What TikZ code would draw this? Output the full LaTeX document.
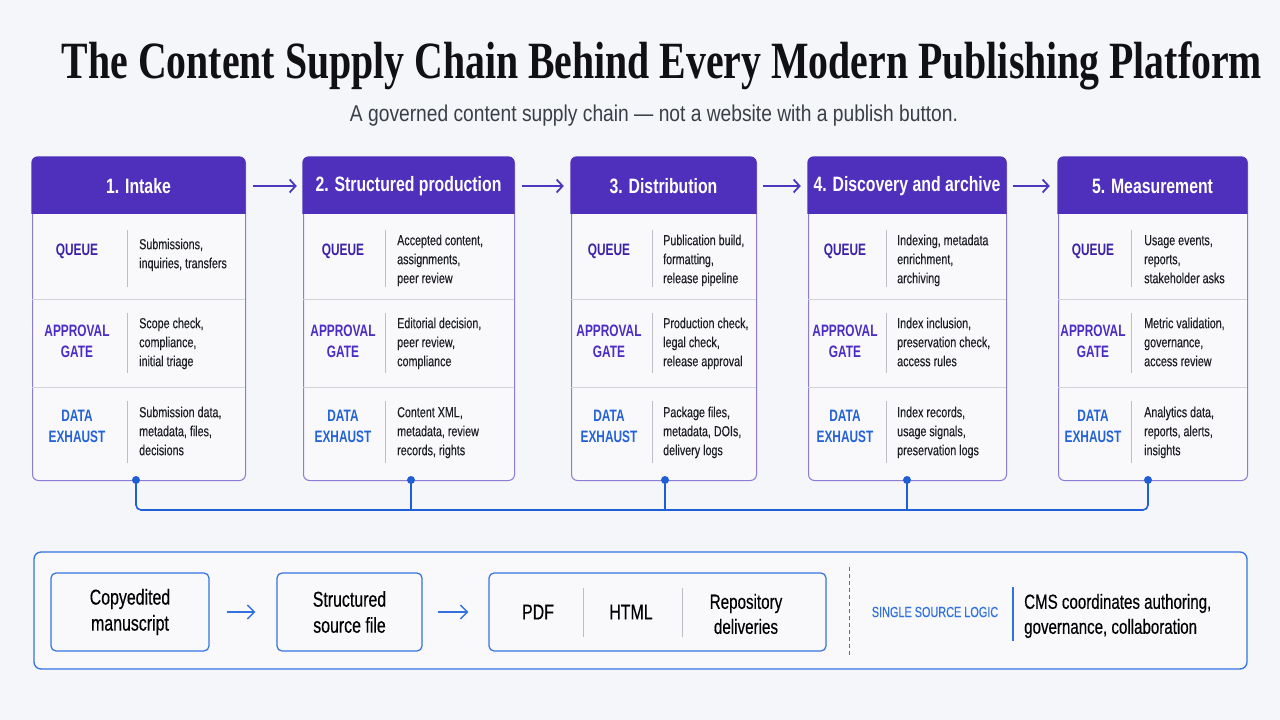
\documentclass[tikz,border=0pt]{standalone}
\usepackage{fontspec}
\usepackage{graphicx}
\setmainfont{Liberation Sans}[FakeStretch=0.74]
\newfontfamily\medfont{Liberation Sans}[FakeStretch=0.74,FakeBold=0.35]
\newfontfamily\labfont{Liberation Sans}[FakeStretch=0.72]
\newfontfamily\hdfont{Liberation Sans}[FakeStretch=0.76]
\newfontfamily\subfont{Liberation Sans}[FakeStretch=0.84]
\newfontfamily\titlefont{Liberation Serif}[FakeStretch=0.76]
\usetikzlibrary{arrows.meta}
\definecolor{bg}{HTML}{F5F6FA}
\definecolor{hdr}{HTML}{4F30BD}
\definecolor{cardbd}{HTML}{8E7BD6}
\definecolor{cardfill}{HTML}{F9F9FC}
\definecolor{rowsepc}{HTML}{D3D3DB}
\definecolor{vdivc}{HTML}{BDBDC5}
\definecolor{qcol}{HTML}{3C22A6}
\definecolor{acol}{HTML}{4A2DC6}
\definecolor{dcol}{HTML}{2462D9}
\definecolor{conc}{HTML}{1E5FD6}
\definecolor{arrp}{HTML}{4B38BE}
\definecolor{bblue}{HTML}{3272E0}
\definecolor{bodytxt}{HTML}{1E1F25}
\definecolor{subc}{HTML}{3A3E47}
\definecolor{titc}{HTML}{111114}
\tikzset{
  card/.style={draw=cardbd, line width=1pt, fill=cardfill, rounded corners=6pt, inner sep=0pt},
  hdrtxt/.style={inner sep=0pt, text=white, font=\hdfont\bfseries\fontsize{20.8}{24}\selectfont},
  lab/.style={inner sep=0pt, align=center, font=\labfont\bfseries\fontsize{16.5}{21}\selectfont},
  cell/.style={anchor=north west, inner sep=0pt, align=left, text=bodytxt, font=\medfont\fontsize{14.5}{19}\selectfont},
  rowsep/.style={draw=rowsepc, line width=1pt},
  vdiv/.style={draw=vdivc, line width=1pt},
  toparr/.style={draw=arrp, line width=1.8pt, -{Straight Barb[length=6pt,width=13pt]}},
  conn/.style={draw=conc, line width=1.6pt},
  dotn/.style={circle, fill=conc, inner sep=0pt, minimum size=8pt},
  panel/.style={draw=bblue, line width=1.3pt, rounded corners=7pt, fill=cardfill, inner sep=0pt},
  bbox/.style={draw=bblue, line width=1.2pt, rounded corners=5pt, fill=cardfill, inner sep=0pt, align=center, text=black, font=\medfont\fontsize{21.5}{26}\selectfont},
  btxt/.style={inner sep=0pt, align=center, text=black, font=\medfont\fontsize{21.5}{25}\selectfont},
  barr/.style={draw=bblue, line width=1.5pt, -{Straight Barb[length=7pt,width=14pt]}},
}
\newcommand\stagecard[6]{%
  \node[card, anchor=north west, minimum width={(#3-#2)*1pt}, minimum height=323pt] (c#1) at (#2,157) {};
  \begin{scope}
    \clip (#2-0.6,156.4) rectangle (#3+0.6,213);
    \fill[hdr, rounded corners=6pt] (#2-0.6,156.4) rectangle (#3+0.6,240);
  \end{scope}
  \node[hdrtxt, minimum width={(#3-#2)*1pt}, minimum height=55pt] (h#1) at ({(#2+#3)/2},186) {#4};
  \draw[rowsep] (#2,299) -- (#3,299);
  \draw[rowsep] (#2,387) -- (#3,387);
  \node[lab, text=qcol] (q#1) at (#5,251) {QUEUE};
  \node[lab, text=acol] (a#1) at (#5,341) {APPROVAL\\GATE};
  \node[lab, text=dcol] (d#1) at (#5,426.5) {DATA\\EXHAUST};
  \draw[vdiv] (#6,230) -- (#6,287);
  \draw[vdiv] (#6,313) -- (#6,373);
  \draw[vdiv] (#6,401) -- (#6,463);
}
\newcommand\stagecells[6]{%
  \node[cell] (tq#1) at (#2,#3-13.3) {\strut #4};
  \node[cell] (ta#1) at (#2,328-13.3) {\strut #5};
  \node[cell] (td#1) at (#2,417-13.3) {\strut #6};
}
\begin{document}
\begin{tikzpicture}[x=1pt,y=-1pt]
\useasboundingbox[fill=bg] (0,0) rectangle (1280,720);

% title and subtitle
\node[anchor=base, inner sep=0pt, text=titc] (title) at (662,78)
  {\resizebox{1200pt}{!}{\titlefont\bfseries\fontsize{52}{52}\selectfont The Content Supply Chain Behind Every Modern Publishing Platform}};
\node[anchor=base, inner sep=0pt, text=subc] (subtitle) at (654,121)
  {\resizebox{608pt}{!}{\subfont\fontsize{21}{21}\selectfont A governed content supply chain — not a website with a publish button.}};

% stage cards
\stagecard{1}{32}{245}{1. Intake}{77}{127}
\stagecells{1}{139}{249}{Submissions,\\inquiries, transfers}{Scope check,\\compliance,\\initial triage}{Submission data,\\metadata, files,\\decisions}

\stagecard{2}{303}{514}{2. Structured production}{343}{385}
\stagecells{2}{397}{245}{Accepted content,\\assignments,\\peer review}{Editorial decision,\\peer review,\\compliance}{Content XML,\\metadata, review\\records, rights}

\stagecard{3}{571}{756}{3. Distribution}{609}{652}
\stagecells{3}{663}{245}{Publication build,\\formatting,\\release pipeline}{Production check,\\legal check,\\release approval}{Package files,\\metadata, DOIs,\\delivery logs}

\stagecard{4}{808}{1006}{4. Discovery and archive}{845}{886}
\stagecells{4}{897}{245}{Indexing, metadata\\enrichment,\\archiving}{Index inclusion,\\preservation check,\\access rules}{Index records,\\usage signals,\\preservation logs}

\stagecard{5}{1058}{1247}{5. Measurement}{1093}{1131}
\stagecells{5}{1144}{245}{Usage events,\\reports,\\stakeholder asks}{Metric validation,\\governance,\\access review}{Analytics data,\\reports, alerts,\\insights}

% arrows between stages
\draw[toparr, shorten <=8pt, shorten >=6pt] (h1.east) -- (h2.west);
\draw[toparr, shorten <=8pt, shorten >=7pt] (h2.east) -- (h3.west);
\draw[toparr, shorten <=7pt, shorten >=7pt] (h3.east) -- (h4.west);
\draw[toparr, shorten <=7pt, shorten >=8pt] (h4.east) -- (h5.west);

% data exhaust connector
\coordinate (kc1) at (136,480);
\coordinate (kc2) at (411,480);
\coordinate (kc3) at (665,480);
\coordinate (kc4) at (907,480);
\coordinate (kc5) at (1148,480);
\coordinate (bus) at (0,510);
\draw[conn, rounded corners=5pt] (kc1) -- (kc1 |- bus) -- (kc5 |- bus) -- (kc5);
\foreach \i in {2,3,4} { \draw[conn] (kc\i) -- (kc\i |- bus); }
\foreach \i in {1,...,5} { \node[dotn] (k\i) at (kc\i) {}; }

% bottom panel
\node[panel, minimum width=1213pt, minimum height=117pt] (panel) at (640.5,610.5) {};
\node[bbox, minimum width=158pt, minimum height=78pt] (b1) at (130,612) {Copyedited\\manuscript};
\node[bbox, minimum width=145pt, minimum height=78pt] (b2) at (349.5,612) {Structured\\source file};
\node[bbox, minimum width=337pt, minimum height=78pt] (b3) at (657.5,612) {};
\node[btxt] (pdf) at (538,612) {PDF};
\node[btxt] (html) at (631,612) {HTML};
\node[btxt, font=\medfont\fontsize{20.5}{25}\selectfont] (repo) at (746,614) {Repository\\deliveries};
\draw[vdiv] (583,588) -- (583,637);
\draw[vdiv] (682,588) -- (682,637);
\draw[barr, shorten <=17pt, shorten >=21pt] (b1.east) -- (b2.west);
\draw[barr, shorten <=15pt, shorten >=20pt] (b2.east) -- (b3.west);
\draw[draw=bblue, line width=1pt, dash pattern=on 4pt off 3pt] (849,567) -- (849,657);
\node[inner sep=0pt, text=bblue, font=\medfont\fontsize{14.7}{17}\selectfont] (ssl) at (935,612) {SINGLE SOURCE LOGIC};
\draw[draw=bblue, line width=1.2pt] (1013,587) -- (1013,641);
\node[anchor=west, inner sep=0pt, align=left, text=black, font=\medfont\fontsize{20.4}{25}\selectfont] (cms) at (1024,616) {CMS coordinates authoring,\\governance, collaboration};
\end{tikzpicture}
\end{document}
